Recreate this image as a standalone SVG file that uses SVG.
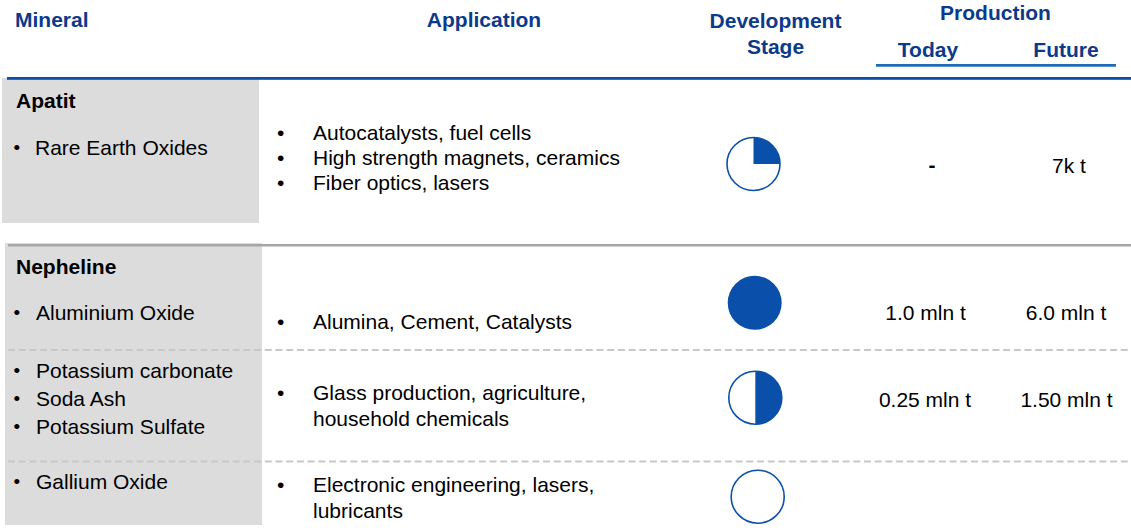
<svg xmlns="http://www.w3.org/2000/svg" width="1131" height="531" viewBox="0 0 1131 531">
<style>
text{font-family:"Liberation Sans",Arial,sans-serif;font-size:21px;fill:#000}
.h{font-weight:bold;fill:#0b3a8b}
.b{font-weight:bold}
.c{text-anchor:middle}
.sb{font-size:19px}
.box{fill:#dcdcdc}
.dash{stroke:#c8c8c8;stroke-width:2.2;stroke-dasharray:7 3.7;fill:none}
.ring{fill:#fff;stroke:#0a50aa;stroke-width:1.6}
.fill{fill:#0a50aa}
</style>
<rect width="1131" height="531" fill="#fff"/>
<g id="header">
<text class="h" x="15" y="27">Mineral</text>
<text class="h c" x="484" y="27">Application</text>
<text class="h c" x="775.5" y="28">Development</text>
<text class="h c" x="775.5" y="54">Stage</text>
<text class="h c" x="995.5" y="20">Production</text>
<text class="h c" x="928" y="57">Today</text>
<text class="h c" x="1066" y="57">Future</text>
<rect x="876" y="64" width="240" height="2.7" fill="#1a6ab6"/>
</g>
<g id="row-apatit">
<rect class="box" x="2" y="78" width="257" height="145"/>
<text class="b" x="16" y="108">Apatit</text>
<text class="sb" x="13.5" y="154">•</text>
<text x="35" y="155">Rare Earth Oxides</text>
<text x="277" y="140">•</text>
<text x="313" y="140">Autocatalysts, fuel cells</text>
<text x="277" y="165">•</text>
<text x="313" y="165">High strength magnets, ceramics</text>
<text x="277" y="190">•</text>
<text x="313" y="190">Fiber optics, lasers</text>
<circle class="ring" cx="753.5" cy="164" r="26.5"/>
<path class="fill" d="M753.5 164 L753.5 137.5 A26.5 26.5 0 0 1 780 164 Z"/>
<text class="b c" x="932" y="172">-</text>
<text class="c" x="1069" y="173">7k t</text>
</g>
<g id="row-nepheline">
<rect class="box" x="5" y="243" width="257" height="282"/>
<text class="b" x="16" y="274">Nepheline</text>
</g>
<g id="row-aluminium">
<text class="sb" x="13.5" y="319">•</text>
<text x="36" y="320">Aluminium Oxide</text>
<text x="277" y="329">•</text>
<text x="313" y="329">Alumina, Cement, Catalysts</text>
<circle class="fill" cx="754.7" cy="302.8" r="27"/>
<text class="c" x="925.5" y="320">1.0 mln t</text>
<text class="c" x="1066" y="320">6.0 mln t</text>
</g>
<g id="row-potassium">
<text class="sb" x="13.5" y="377">•</text>
<text x="36" y="378">Potassium carbonate</text>
<text class="sb" x="13.5" y="405">•</text>
<text x="36" y="406">Soda Ash</text>
<text class="sb" x="13.5" y="433">•</text>
<text x="36" y="434">Potassium Sulfate</text>
<text x="277" y="400">•</text>
<text x="313" y="400">Glass production, agriculture,</text>
<text x="313" y="426">household chemicals</text>
<circle class="ring" cx="755.3" cy="397.7" r="26.5"/>
<path class="fill" d="M755.3 371.2 A26.5 26.5 0 0 1 755.3 424.2 Z"/>
<text class="c" x="925" y="407">0.25 mln t</text>
<text class="c" x="1066.5" y="407">1.50 mln t</text>
</g>
<g id="row-gallium">
<text class="sb" x="13.5" y="488">•</text>
<text x="36" y="489">Gallium Oxide</text>
<text x="277" y="492">•</text>
<text x="313" y="492">Electronic engineering, lasers,</text>
<text x="313" y="518">lubricants</text>
<circle class="ring" cx="757.7" cy="496.7" r="26.5"/>
</g>
<g id="connectors">
<rect x="7" y="77" width="1124" height="2.8" fill="#0a4fa6"/>
<line x1="8" y1="245.2" x2="1131" y2="245.2" stroke="#a6a6a6" stroke-width="2.6"/>
<line class="dash" x1="8" y1="350" x2="1131" y2="350"/>
<line class="dash" x1="8" y1="461.5" x2="1131" y2="461.5"/>
</g>
</svg>
